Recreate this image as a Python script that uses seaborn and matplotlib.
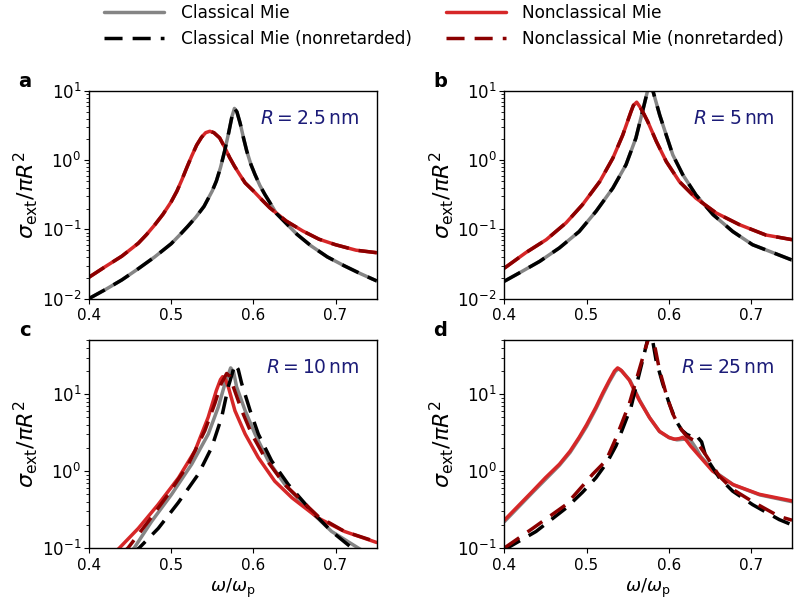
import matplotlib
matplotlib.use("Agg")
import matplotlib.pyplot as plt
import seaborn as sns

# ---- extinction spectra, sigma_ext / (pi R^2) versus omega / omega_p ----
# panel a : R = 2.5 nm (retarded and nonretarded curves coincide)
A_CL_X = [0.40, 0.42, 0.44, 0.46, 0.48, 0.50, 0.51, 0.52, 0.53, 0.54, 0.55, 0.555,
          0.56, 0.565, 0.570, 0.574, 0.577, 0.580, 0.584, 0.588, 0.592, 0.597,
          0.602, 0.608, 0.614, 0.620, 0.628, 0.64, 0.653, 0.67, 0.69, 0.71, 0.73, 0.75]
A_CL_Y = [0.0100, 0.0135, 0.0186, 0.027, 0.040, 0.062, 0.082, 0.110, 0.150, 0.215,
          0.36, 0.50, 0.78, 1.35, 2.5, 4.3, 5.6, 5.0, 3.4, 2.1, 1.35, 0.87, 0.62,
          0.43, 0.32, 0.245, 0.170, 0.122, 0.085, 0.058, 0.040, 0.030, 0.023, 0.018]
A_NC_X = [0.40, 0.42, 0.44, 0.46, 0.47, 0.48, 0.49, 0.50, 0.507, 0.513, 0.519,
          0.525, 0.531, 0.537, 0.542, 0.547, 0.552, 0.559, 0.565, 0.571, 0.577,
          0.583, 0.59, 0.60, 0.61, 0.62, 0.64, 0.66, 0.68, 0.70, 0.725, 0.75]
A_NC_Y = [0.0203, 0.029, 0.041, 0.063, 0.084, 0.116, 0.165, 0.25, 0.357, 0.52,
          0.78, 1.15, 1.65, 2.15, 2.5, 2.62, 2.5, 2.1, 1.55, 1.1, 0.82, 0.63,
          0.47, 0.36, 0.27, 0.205, 0.132, 0.095, 0.072, 0.060, 0.050, 0.046]

# panel b : R = 5 nm
B_CL_X = [0.40, 0.418, 0.443, 0.467, 0.491, 0.5115, 0.532, 0.548, 0.560, 0.568,
          0.574, 0.577, 0.581, 0.589, 0.597, 0.605, 0.617, 0.633, 0.654, 0.678,
          0.702, 0.727, 0.75]
B_CL_Y = [0.0178, 0.0234, 0.0345, 0.054, 0.093, 0.182, 0.395, 0.86, 2.08, 5.0,
          9.8, 13.0, 9.8, 4.5, 2.3, 1.19, 0.62, 0.316, 0.163, 0.093, 0.060, 0.046, 0.036]
B_NC_X = [0.40, 0.426, 0.451, 0.475, 0.495, 0.516, 0.532, 0.544, 0.554, 0.557,
          0.561, 0.565, 0.570, 0.5745, 0.585, 0.597, 0.613, 0.633, 0.658, 0.686,
          0.718, 0.75]
B_NC_Y = [0.0275, 0.046, 0.071, 0.124, 0.227, 0.49, 1.07, 2.3, 5.0, 6.2, 6.9,
          5.9, 4.6, 3.6, 1.86, 0.955, 0.49, 0.283, 0.172, 0.117, 0.083, 0.071]

# panel c : R = 10 nm
C_CL_X = [0.445, 0.455, 0.476, 0.5006, 0.525, 0.5452, 0.5573, 0.5655, 0.5724,
          0.576, 0.5796, 0.5898, 0.602, 0.6182, 0.6384, 0.6668, 0.6953, 0.7276, 0.735]
C_CL_Y = [0.08, 0.1, 0.22, 0.50, 1.23, 3.04, 6.8, 13.8, 22.0, 19.5, 12.5, 6.2,
          3.04, 1.36, 0.67, 0.32, 0.164, 0.1, 0.09]
C_CLN_X = [0.452, 0.461, 0.4843, 0.5087, 0.533, 0.5493, 0.5614, 0.5695, 0.5776,
           0.5816, 0.5857, 0.5959, 0.606, 0.6222, 0.6425, 0.671, 0.6953, 0.72, 0.728]
C_CLN_Y = [0.085, 0.1, 0.18, 0.39, 0.91, 2.03, 5.0, 12.5, 24.5, 21.0, 13.9, 6.2,
           3.04, 1.36, 0.67, 0.30, 0.164, 0.1, 0.09]
C_NC_X = [0.43, 0.437, 0.46, 0.484, 0.509, 0.529, 0.545, 0.555, 0.560, 0.5626,
          0.566, 0.5695, 0.5776, 0.590, 0.606, 0.626, 0.647, 0.679, 0.711, 0.75]
C_NC_Y = [0.085, 0.1, 0.18, 0.366, 0.82, 1.84, 5.0, 11.2, 15.5, 16.9, 15.5, 12.5,
          6.1, 3.04, 1.5, 0.74, 0.45, 0.245, 0.164, 0.118]
C_NCN_X = [0.44, 0.4475, 0.472, 0.4965, 0.521, 0.541, 0.553, 0.561, 0.5675,
           0.5715, 0.5756, 0.5857, 0.598, 0.614, 0.638, 0.679, 0.711, 0.75]
C_NCN_Y = [0.085, 0.1, 0.22, 0.50, 1.23, 3.36, 7.5, 13.8, 18.6, 17.0, 12.5, 6.2,
           3.04, 1.5, 0.67, 0.257, 0.164, 0.12]

# panel d : R = 25 nm
D_CL_X = [0.40, 0.4345, 0.45, 0.467, 0.48, 0.491, 0.50, 0.5115, 0.52, 0.5277,
          0.535, 0.539, 0.543, 0.553, 0.565, 0.577, 0.589, 0.601, 0.610, 0.618,
          0.6225, 0.627, 0.633, 0.639, 0.655, 0.679, 0.711, 0.75]
D_CL_Y = [0.22, 0.53, 0.78, 1.19, 1.75, 2.65, 3.8, 6.5, 10.0, 14.5, 19.8, 21.5,
          20.0, 15.0, 8.2, 4.9, 3.25, 2.7, 2.55, 2.6, 2.7, 2.5, 2.0, 1.55, 1.0,
          0.66, 0.49, 0.40]
D_CLN_X = [0.40, 0.4385, 0.475, 0.495, 0.5115, 0.525, 0.5359, 0.5541, 0.5703,
           0.575, 0.578, 0.5804, 0.5845, 0.5926, 0.6007, 0.6089, 0.616, 0.622,
           0.627, 0.630, 0.633, 0.636, 0.640, 0.6454, 0.6615, 0.6777, 0.7021,
           0.7345, 0.75]
D_CLN_Y = [0.095, 0.164, 0.33, 0.53, 0.82, 1.3, 2.14, 6.8, 34.0, 55.0, 60.0, 50.0,
           27.9, 13.8, 7.5, 4.5, 3.4, 3.0, 2.85, 2.9, 3.0, 2.7, 2.4, 1.5, 0.82,
           0.55, 0.366, 0.234, 0.20]
D_NC_X = [0.40, 0.4345, 0.45, 0.467, 0.48, 0.491, 0.50, 0.5115, 0.52, 0.5277,
          0.534, 0.5378, 0.542, 0.552, 0.564, 0.5764, 0.5886, 0.600, 0.607, 0.613,
          0.617, 0.621, 0.627, 0.637, 0.6534, 0.678, 0.710, 0.75]
D_NC_Y = [0.23, 0.55, 0.82, 1.23, 1.82, 2.75, 4.0, 6.8, 10.5, 15.1, 20.0, 22.0,
          20.5, 15.3, 8.4, 5.0, 3.3, 2.75, 2.6, 2.65, 2.75, 2.55, 2.1, 1.58, 1.0,
          0.67, 0.50, 0.41]
D_NCN_X = [0.40, 0.4345, 0.475, 0.4953, 0.5074, 0.5237, 0.5359, 0.552, 0.5642,
           0.5724, 0.576, 0.579, 0.5825, 0.5886, 0.5967, 0.6048, 0.6129, 0.621,
           0.628, 0.634, 0.6454, 0.6615, 0.6777, 0.7021, 0.7345, 0.75]
D_NCN_Y = [0.10, 0.18, 0.366, 0.645, 0.91, 1.37, 2.7, 7.5, 21.0, 42.0, 55.0,
           58.0, 45.0, 21.0, 10.2, 5.6, 3.76, 2.9, 2.6, 2.4, 1.6, 0.86, 0.58,
           0.40, 0.257, 0.23]

PANEL_LETTERS = ["a", "b", "c", "d"]
RADII = ["2.5", "5", "10", "25"]
Y_LIMITS = [(1e-2, 1e1), (1e-2, 1e1), (1e-1, 50), (1e-1, 50)]
X_TICKS = [0.4, 0.5, 0.6, 0.7]
LEGEND_LABELS = ["Classical Mie", "Classical Mie (nonretarded)",
                 "Nonclassical Mie", "Nonclassical Mie (nonretarded)"]

sns.set_style("ticks")
plt.rcParams["font.family"] = ["DejaVu Sans"]
plt.rcParams["mathtext.fontset"] = "dejavusans"
plt.rcParams["xtick.labelsize"] = 11
plt.rcParams["ytick.labelsize"] = 12
plt.rcParams["axes.edgecolor"] = "black"
plt.rcParams["axes.labelcolor"] = "black"
plt.rcParams["text.color"] = "black"
plt.rcParams["xtick.color"] = "black"
plt.rcParams["ytick.color"] = "black"

GRAY = "#858585"
BLACK = "black"
RED = "#d62728"
DARKRED = "#8b0000"
LW = 2.5
DASH = (0, (5.2, 2.9))

panels = [
    ((A_CL_X, A_CL_Y), (A_CL_X, A_CL_Y), (A_NC_X, A_NC_Y), (A_NC_X, A_NC_Y)),
    ((B_CL_X, B_CL_Y), (B_CL_X, B_CL_Y), (B_NC_X, B_NC_Y), (B_NC_X, B_NC_Y)),
    ((C_CL_X, C_CL_Y), (C_CLN_X, C_CLN_Y), (C_NC_X, C_NC_Y), (C_NCN_X, C_NCN_Y)),
    ((D_CL_X, D_CL_Y), (D_CLN_X, D_CLN_Y), (D_NC_X, D_NC_Y), (D_NCN_X, D_NCN_Y)),
]

fig, axes = plt.subplots(2, 2, figsize=(7.98, 6.06), dpi=100)
fig.subplots_adjust(left=0.1115, right=0.9925, bottom=0.0957, top=0.8498,
                    wspace=0.444, hspace=0.202)

for k, ax in enumerate(axes.flat):
    cl, cln, nc, ncn = panels[k]
    common = dict(ax=ax, estimator=None, sort=False, errorbar=None, lw=LW)
    sns.lineplot(x=cl[0], y=cl[1], color=GRAY, linestyle="-", **common)
    sns.lineplot(x=nc[0], y=nc[1], color=RED, linestyle="-", **common)
    sns.lineplot(x=cln[0], y=cln[1], color=BLACK, linestyle=DASH, **common)
    sns.lineplot(x=ncn[0], y=ncn[1], color=DARKRED, linestyle=DASH, **common)

    ax.set_yscale("log")
    ax.set_xlim(0.4, 0.75)
    ax.set_ylim(*Y_LIMITS[k])
    ax.set_xticks(X_TICKS)
    ax.set_xticklabels([f"{t:.1f}" for t in X_TICKS])
    ax.tick_params(axis="y", pad=2)
    ax.set_ylabel(r"$\sigma_{\rm ext}/\pi R^2$", fontsize=16, labelpad=1)
    if k >= 2:
        ax.set_xlabel(r"$\omega/\omega_{\rm p}$", fontsize=13, labelpad=3)
    else:
        ax.set_xlabel("")
    for sp in ax.spines.values():
        sp.set_linewidth(1.0)
        sp.set_color("black")
    ax.text(0.94, 0.87, rf"$R = {RADII[k]}\,\mathrm{{nm}}$", transform=ax.transAxes,
            ha="right", va="center", fontsize=13.5, color="#1c1c78")
    ax.text(-0.222, 1.048, PANEL_LETTERS[k], transform=ax.transAxes,
            ha="center", va="center", fontsize=14, fontweight="bold")

lines = axes[0, 0].get_lines()
handles = [lines[0], lines[2], lines[1], lines[3]]
fig.legend(handles, LEGEND_LABELS, loc="upper left", ncol=2, frameon=False,
           bbox_to_anchor=(0.1115, 1.018), fontsize=12.2, handlelength=3.55,
           handletextpad=0.97, columnspacing=2.0, labelspacing=0.45)

fig.savefig("out.png", dpi=100)
